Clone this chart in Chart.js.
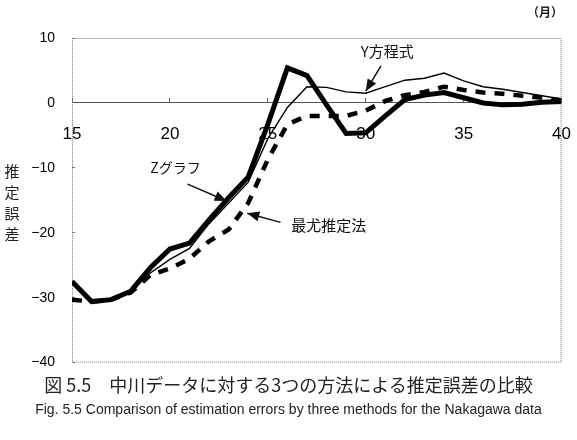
<!DOCTYPE html>
<html>
<head>
<meta charset="utf-8">
<script src="https://cdn.jsdelivr.net/npm/chart.js@4.4.0/dist/chart.umd.min.js"></script>
<style>
  body { margin: 0; background: #fff; width: 577px; height: 440px; position: relative; overflow: hidden; }
  #wrap { position: absolute; left: 0; top: 0; width: 597px; height: 391px; }
  .jp { font-family: "Noto Sans CJK JP", sans-serif; color: #222; position: absolute; }
  #unit { left: 527px; top: 3px; font-size: 12px; font-weight: bold; }
  #ytitle { left: 3px; top: 160px; font-size: 15px; line-height: 21px; width: 18px; text-align: center; }
  #cap1 { left: 0; top: 371px; width: 577px; text-align: center; font-size: 18px; white-space: nowrap; }
  #cap2 { left: 0; top: 401px; width: 577px; text-align: center; font-size: 14px; white-space: nowrap; font-family: "Liberation Sans", Arial, sans-serif; }
</style>
</head>
<body>
<div id="wrap"><canvas id="chart" width="597" height="391"></canvas></div>
<div class="jp" id="unit">（月）</div>
<div class="jp" id="ytitle">推<br>定<br>誤<br>差</div>
<div class="jp" id="cap1">図 5.5　中川データに対する3つの方法による推定誤差の比較</div>
<div class="jp" id="cap2">Fig. 5.5  Comparison of estimation errors by three methods for the Nakagawa data</div>
<script>
// months on the x axis
const months = [15, 16, 17, 18, 19, 20, 21, 22, 23, 24, 25, 26, 27, 28, 29, 30, 31, 32, 33, 34, 35, 36, 37, 38, 39, 40];

// Zグラフ (thick solid)
const zGraph = [-27.5, -30.6, -30.3, -29.0, -25.4, -22.5, -21.6, -18.0, -14.6, -11.4, -3.3, 5.4, 4.2, -0.3, -4.7, -4.6, -2.0, 0.5, 1.2, 1.6, 0.8, 0.0, -0.3, -0.2, 0.1, 0.2];

// Y方程式 (thin solid)
const yEquation = [-27.5, -30.6, -30.3, -29.0, -26.2, -24.1, -22.4, -18.6, -15.4, -12.2, -5.5, -0.7, 2.5, 2.4, 1.7, 1.5, 2.5, 3.5, 3.8, 4.6, 3.4, 2.5, 2.1, 1.6, 1.1, 0.6];

// 最尤推定法 (thick dashed)
const maxLikelihood = [-30.3, -30.6, -30.3, -29.2, -26.5, -25.5, -24.0, -21.3, -19.5, -15.4, -8.7, -3.3, -2.0, -2.0, -2.0, -1.2, 0.3, 1.2, 1.7, 2.5, 2.0, 1.6, 1.4, 1.1, 0.8, 0.4];

const xTicks = [15, 20, 25, 30, 35, 40];
const yTicks = [-40, -30, -20, -10, 0, 10];

// labels with arrows, anchored in data units
const notes = [
  { text: "Y方程式", tx: 29.75, ty: 8.0, from: [30.78, 5.7], to: [30.0, 1.8], size: 15 },
  { text: "Zグラフ", tx: 19.0, ty: -10.0, from: [20.9, -12.5], to: [22.9, -15.1], size: 14 },
  { text: "最尤推定法", tx: 26.2, ty: -18.8, from: [25.65, -18.4], to: [23.95, -17.0], size: 15 }
];

const toPoints = vals => vals.map((v, i) => ({ x: months[i], y: v }));

function drawArrow(ctx, x1, y1, x2, y2) {
  ctx.beginPath();
  ctx.moveTo(x1, y1);
  ctx.lineTo(x2, y2);
  ctx.stroke();
  const ang = Math.atan2(y2 - y1, x2 - x1);
  const len = 12, w = 5;
  ctx.beginPath();
  ctx.moveTo(x2, y2);
  ctx.lineTo(x2 - len * Math.cos(ang) + w * Math.sin(ang), y2 - len * Math.sin(ang) - w * Math.cos(ang));
  ctx.lineTo(x2 - len * Math.cos(ang) - w * Math.sin(ang), y2 - len * Math.sin(ang) + w * Math.cos(ang));
  ctx.closePath();
  ctx.fill();
}

// dotted frame round the plot area
const framePlugin = {
  id: "frame",
  beforeDatasetsDraw(chart) {
    const { ctx, chartArea: a } = chart;
    ctx.save();
    ctx.strokeStyle = "#777";
    ctx.lineWidth = 1;
    ctx.setLineDash([1, 1]);
    ctx.strokeRect(a.left + 0.5, a.top + 0.5, a.width - 1, a.height - 1);
    ctx.restore();
  }
};

const notesPlugin = {
  id: "notes",
  afterDatasetsDraw(chart) {
    const { ctx } = chart;
    const sx = chart.scales.x, sy = chart.scales.y;
    ctx.save();
    ctx.fillStyle = "#111";
    ctx.strokeStyle = "#111";
    ctx.lineWidth = 1.5;
    notes.forEach(n => {
      ctx.font = n.size + 'px "Noto Sans CJK JP"';
      ctx.textAlign = "left";
      ctx.textBaseline = "middle";
      ctx.fillText(n.text, sx.getPixelForValue(n.tx), sy.getPixelForValue(n.ty));
      drawArrow(ctx,
        sx.getPixelForValue(n.from[0]), sy.getPixelForValue(n.from[1]),
        sx.getPixelForValue(n.to[0]), sy.getPixelForValue(n.to[1]));
    });
    ctx.restore();
  }
};

new Chart(document.getElementById("chart"), {
  type: "line",
  data: {
    datasets: [
      {
        label: "最尤推定法",
        data: toPoints(maxLikelihood),
        borderColor: "#000",
        borderWidth: 4.5,
        borderDash: [10, 9],
        pointRadius: 0,
        tension: 0
      },
      {
        label: "Y方程式",
        data: toPoints(yEquation),
        borderColor: "#000",
        borderWidth: 1.4,
        pointRadius: 0,
        tension: 0
      },
      {
        label: "Zグラフ",
        data: toPoints(zGraph),
        borderColor: "#000",
        borderWidth: 5,
        pointRadius: 0,
        tension: 0,
        borderJoinStyle: "miter"
      }
    ]
  },
  options: {
    responsive: false,
    animation: false,
    layout: { padding: { left: 0, top: 38, right: 17, bottom: 9 } },
    plugins: {
      legend: { display: false },
      tooltip: { enabled: false }
    },
    scales: {
      x: {
        type: "linear",
        min: 15,
        max: 40,
        position: { y: 0 },
        afterFit(scale) { scale.height = 0; },
        afterBuildTicks(scale) { scale.ticks = xTicks.map(v => ({ value: v })); },
        ticks: {
          padding: 26,
          color: "#000",
          font: { family: "'Liberation Sans', Arial, sans-serif", size: 17 }
        },
        grid: { drawOnChartArea: false, tickLength: -5, color: "#666" },
        border: { color: "#555", width: 1 }
      },
      y: {
        min: -40,
        max: 10,
        afterFit(scale) { scale.width = 72; },
        afterBuildTicks(scale) { scale.ticks = yTicks.map(v => ({ value: v })); },
        ticks: {
          padding: 20,
          color: "#000",
          font: { family: "'Liberation Sans', Arial, sans-serif", size: 14 },
          callback: v => String(v).replace("-", "\u2212")
        },
        grid: { drawOnChartArea: false, tickLength: -3, color: "#777" },
        border: { display: false }
      }
    }
  },
  plugins: [framePlugin, notesPlugin]
});
</script>
</body>
</html>
